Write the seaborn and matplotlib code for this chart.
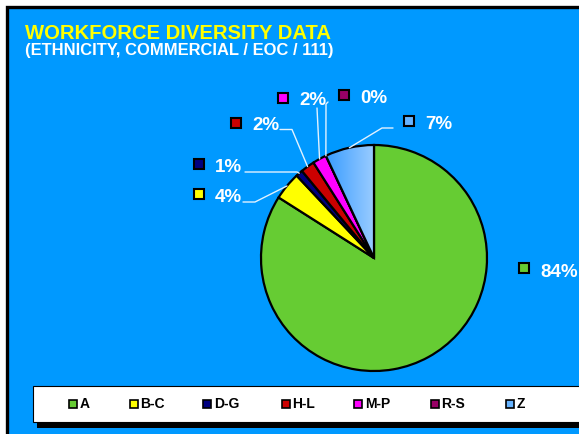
import numpy as np
import matplotlib
matplotlib.use("Agg")
import matplotlib.pyplot as plt
import seaborn as sns
from matplotlib.patches import Rectangle
from matplotlib.lines import Line2D
from matplotlib.transforms import Affine2D
from matplotlib.colors import LinearSegmentedColormap

# ---- data ----
categories = ["A", "B-C", "D-G", "H-L", "M-P", "R-S", "Z"]
percent = [84, 4, 1, 2, 2, 0, 7]
pct_labels = ["84%", "4%", "1%", "2%", "2%", "0%", "7%"]
slice_colors = ["#66CC33", "#FFFF00", "#000080", "#CC0000", "#FF00FF", "#990066", "#66B3FF"]
title = "WORKFORCE DIVERSITY DATA"
subtitle = "(ETHNICITY, COMMERCIAL / EOC / 111)"

sns.set_theme(style="white")
plt.rcParams["font.family"] = ["Liberation Sans", "DejaVu Sans"]

W, H = 579, 434
fig = plt.figure(figsize=(W / 100, H / 100), dpi=100)
fig.patch.set_facecolor("white")
# transform: image pixels (y downward) -> figure
T = Affine2D().scale(1 / W, -1 / H).translate(0, 1) + fig.transFigure

BG = "#0099FF"
fig.add_artist(Rectangle((6.7, 6.7), 700, 600, transform=T, facecolor=BG,
                         edgecolor="black", linewidth=2.4, zorder=0))

# titles
fig.text(25, 39, title, transform=T, color="#FFFF00", fontsize=14.6,
         fontweight="bold", ha="left", va="baseline")
fig.text(25, 54.5, subtitle, transform=T, color="white", fontsize=11.9,
         fontweight="bold", ha="left", va="baseline")

# pie
cx, cy, R = 374, 258, 113
ax = fig.add_axes([(cx - R) / W, (H - cy - R) / H, 2 * R / W, 2 * R / H])
pal = sns.color_palette(slice_colors)
wedges, _ = ax.pie(percent, colors=pal, startangle=90, counterclock=False,
                   wedgeprops=dict(edgecolor="black", linewidth=1.6))
# gradient fill for the Z slice
zw = wedges[-1]
zw.set_facecolor("none")
zw.set_zorder(2)
cmap = LinearSegmentedColormap.from_list("zgrad", ["#3399FF", "#99CCFF"])
im = ax.imshow(np.linspace(0, 1, 256).reshape(1, -1), extent=(-0.45, 0.0, 0.0, 1.0),
               cmap=cmap, aspect="auto", zorder=1.5)
im.set_clip_path(zw)
ax.set_xlim(-1, 1)
ax.set_ylim(-1, 1)
ax.set_axis_off()

def rim_point(w):
    th = np.deg2rad((w.theta1 + w.theta2) / 2)
    return (cx + R * np.cos(th), cy - R * np.sin(th))

# label layout (square centre, text start, baseline) and leader elbows, image px
label_pos = {
    "A": ((524, 268), (540, 277), None),
    "B-C": ((199, 193.5), (215, 202), [(243, 202), (255, 202)]),
    "D-G": ((199, 163.5), (215, 172), [(245, 172), (297, 172)]),
    "H-L": ((236, 122.5), (252, 130), [(280, 129.5), (292, 129.5)]),
    "M-P": ((282.5, 97.5), (299, 105), [(317, 108)]),
    "R-S": ((343.5, 94.5), (360, 103), [(328, 102), (326, 104)]),
    "Z": ((409, 120.5), (425, 129), [(393, 128), (382, 128)]),
}
LINE_C = "#e2f2ff"
for cat, lab, col, w in zip(categories, pct_labels, pal, wedges):
    sq, tx, elbow = label_pos[cat]
    fig.add_artist(Line2D([sq[0]], [sq[1]], transform=T, marker="s", markersize=7.2,
                          markerfacecolor=col, markeredgecolor="black",
                          markeredgewidth=1.5, linestyle="none"))
    fig.text(tx[0], tx[1], lab, transform=T, color="white", fontsize=13.5,
             fontweight="bold", ha="left", va="baseline")
    if elbow:
        pts = elbow + [rim_point(w)]
        xs, ys = zip(*pts)
        fig.add_artist(Line2D(xs, ys, transform=T, color=LINE_C, linewidth=1.0))

# legend box with shadow
fig.add_artist(Rectangle((36.7, 390), 700, 37.5, transform=T, facecolor="black",
                         edgecolor="none", zorder=1))
fig.add_artist(Rectangle((32.7, 385.5), 700, 36, transform=T, facecolor="white",
                         edgecolor="black", linewidth=0.8, zorder=2))
leg_x = [72.7, 134, 207.3, 286, 358.3, 435, 510]
for x, cat, col in zip(leg_x, categories, pal):
    fig.add_artist(Line2D([x], [403.5], transform=T, marker="s", markersize=5.2,
                          markerfacecolor=col, markeredgecolor="black",
                          markeredgewidth=1.2, linestyle="none", zorder=3))
    fig.text(x + 6.5, 408.5, cat, transform=T, color="black", fontsize=10,
             fontweight="bold", ha="left", va="baseline", zorder=3)

fig.savefig("out.png", dpi=100, facecolor=fig.get_facecolor())
